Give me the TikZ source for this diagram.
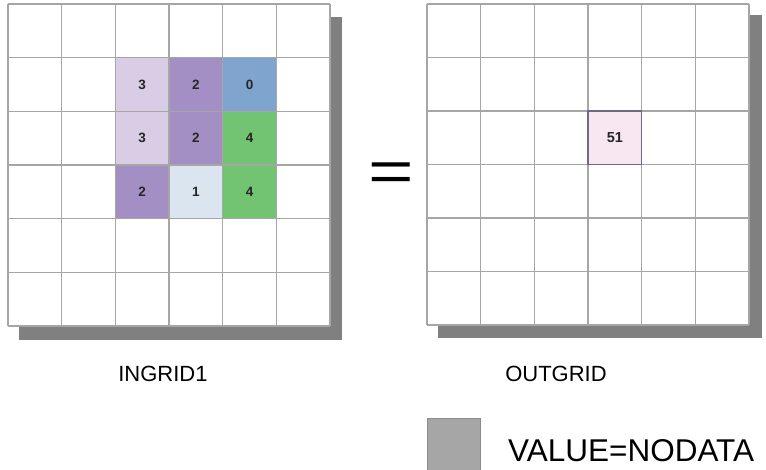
\documentclass[tikz,border=0pt]{standalone}
\usepackage{fontspec}
\setmainfont{Liberation Sans}
\begin{document}
\begin{tikzpicture}[x=1pt,y=-1pt,
  gridline/.style={draw=black!35, line width=1.3pt},
  shadowbox/.style={fill=black!50, draw=none},
  cellnum/.style={font=\bfseries\fontsize{13.5}{13.5}\selectfont, text=black!85, inner sep=0pt},
  caption/.style={font=\fontsize{22}{22}\selectfont, inner sep=0pt, anchor=base},
]
\definecolor{lilac}{HTML}{D9CCE5}
\definecolor{violet}{HTML}{A48FC4}
\definecolor{steel}{HTML}{7FA5CE}
\definecolor{leaf}{HTML}{72C372}
\definecolor{pale}{HTML}{DAE5F0}
\definecolor{blush}{HTML}{F8E6F1}
\definecolor{nodata}{HTML}{A6A6A6}
\definecolor{slate}{HTML}{6A6A88}

\useasboundingbox (0,0) rectangle (766,469);

% ---------- input grid ----------
\def\cw{53.67}
\fill[shadowbox] (19,17) rectangle (342,340);
\fill[white] (8,4) rectangle (330,326);
% coloured cells: column, row, colour
\foreach \c/\r/\col in {2/1/lilac,3/1/violet,4/1/steel,
                        2/2/lilac,3/2/violet,4/2/leaf,
                        2/3/violet,3/3/pale,4/3/leaf}
  \fill[\col] ({8+\c*\cw},{4+\r*\cw}) rectangle ({8+(\c+1)*\cw},{4+(\r+1)*\cw});
\foreach \i in {0,...,6} {
  \draw[gridline] ({8+\i*\cw},4) -- ({8+\i*\cw},326);
  \draw[gridline] (8,{4+\i*\cw}) -- (330,{4+\i*\cw});
}
\foreach \c/\r/\v/\n in {2/1/3/a,3/1/2/b,4/1/0/c,
                         2/2/3/d,3/2/2/e,4/2/4/f,
                         2/3/2/g,3/3/1/h,4/3/4/i}
  \node[cellnum] (in\n) at ({8+(\c+0.5)*\cw},{4+(\r+0.5)*\cw}) {\v};

% ---------- equals ----------
\node[font=\fontsize{78}{78}\selectfont, inner sep=0pt] (eq) at (391,177)
  {\scalebox{1}[0.75]{=}};

% ---------- output grid ----------
\def\dw{53.67}
\def\dh{53.5}
\fill[shadowbox] (438,15) rectangle (762,338);
\fill[white] (427,4) rectangle (749,325);
\fill[blush] ({427+3*\dw},{4+2*\dh}) rectangle ({427+4*\dw},{4+3*\dh});
\foreach \i in {0,...,6} {
  \draw[gridline] ({427+\i*\dw},4) -- ({427+\i*\dw},325);
  \draw[gridline] (427,{4+\i*\dh}) -- (749,{4+\i*\dh});
}
\draw[draw=slate, line width=1.2pt]
  ({427+3*\dw},{4+2*\dh}) rectangle ({427+4*\dw},{4+3*\dh});
\node[cellnum, font=\bfseries\fontsize{14.5}{14.5}\selectfont] (out51)
  at ({427+3.5*\dw},{4+2.5*\dh}) {51};

% ---------- captions ----------
\node[caption] (ingrid) at (163,381) {INGRID1};
\node[caption] (outgrid) at (556,381) {OUTGRID};

% ---------- legend ----------
\filldraw[fill=nodata, draw=black!45, line width=1pt] (427,418) rectangle (480,472);
\node[font=\fontsize{31.5}{31.5}\selectfont, inner sep=0pt, anchor=base west]
  (legend) at (508,461) {VALUE=NODATA};
\end{tikzpicture}
\end{document}
